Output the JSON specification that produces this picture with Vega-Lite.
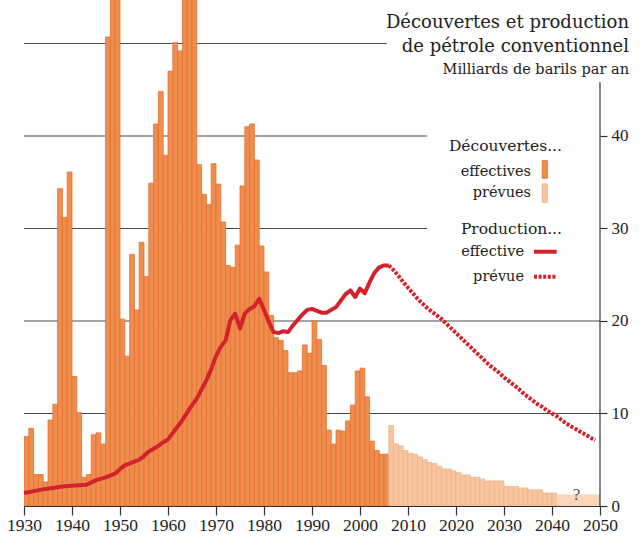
{
  "$schema": "https://vega.github.io/schema/vega-lite/v6.json",
  "width": 576,
  "height": 506,
  "autosize": {"type": "none"},
  "padding": {"left": 24, "right": 40, "top": 0, "bottom": 32},
  "background": "white",
  "config": {"view": {"stroke": null}, "font": "DejaVu Serif"},
  "datasets": {
    "grid": [
      {"start": 1930, "end": 2005.6, "level": 50},
      {"start": 1930, "end": 2014, "level": 40},
      {"start": 1930, "end": 2014, "level": 30},
      {"start": 1930, "end": 2050, "level": 20},
      {"start": 1930, "end": 2050, "level": 10}
    ],
    "disc": [
      {"year": 1930, "value": 7.5, "type": "effectives"},
      {"year": 1931, "value": 8.4, "type": "effectives"},
      {"year": 1932, "value": 3.4, "type": "effectives"},
      {"year": 1933, "value": 3.4, "type": "effectives"},
      {"year": 1934, "value": 2.6, "type": "effectives"},
      {"year": 1935, "value": 9.3, "type": "effectives"},
      {"year": 1936, "value": 11.0, "type": "effectives"},
      {"year": 1937, "value": 34.3, "type": "effectives"},
      {"year": 1938, "value": 31.2, "type": "effectives"},
      {"year": 1939, "value": 36.1, "type": "effectives"},
      {"year": 1940, "value": 14.0, "type": "effectives"},
      {"year": 1941, "value": 10.1, "type": "effectives"},
      {"year": 1942, "value": 3.1, "type": "effectives"},
      {"year": 1943, "value": 3.4, "type": "effectives"},
      {"year": 1944, "value": 7.7, "type": "effectives"},
      {"year": 1945, "value": 7.9, "type": "effectives"},
      {"year": 1946, "value": 6.7, "type": "effectives"},
      {"year": 1947, "value": 50.7, "type": "effectives"},
      {"year": 1948, "value": 62, "type": "effectives"},
      {"year": 1949, "value": 60, "type": "effectives"},
      {"year": 1950, "value": 20.2, "type": "effectives"},
      {"year": 1951, "value": 16.2, "type": "effectives"},
      {"year": 1952, "value": 27.2, "type": "effectives"},
      {"year": 1953, "value": 21.2, "type": "effectives"},
      {"year": 1954, "value": 28.5, "type": "effectives"},
      {"year": 1955, "value": 24.8, "type": "effectives"},
      {"year": 1956, "value": 34.9, "type": "effectives"},
      {"year": 1957, "value": 41.3, "type": "effectives"},
      {"year": 1958, "value": 44.8, "type": "effectives"},
      {"year": 1959, "value": 37.9, "type": "effectives"},
      {"year": 1960, "value": 47.0, "type": "effectives"},
      {"year": 1961, "value": 50.1, "type": "effectives"},
      {"year": 1962, "value": 49.2, "type": "effectives"},
      {"year": 1963, "value": 58, "type": "effectives"},
      {"year": 1964, "value": 62, "type": "effectives"},
      {"year": 1965, "value": 57, "type": "effectives"},
      {"year": 1966, "value": 36.9, "type": "effectives"},
      {"year": 1967, "value": 33.7, "type": "effectives"},
      {"year": 1968, "value": 32.6, "type": "effectives"},
      {"year": 1969, "value": 37.0, "type": "effectives"},
      {"year": 1970, "value": 34.8, "type": "effectives"},
      {"year": 1971, "value": 30.7, "type": "effectives"},
      {"year": 1972, "value": 26.0, "type": "effectives"},
      {"year": 1973, "value": 25.8, "type": "effectives"},
      {"year": 1974, "value": 28.2, "type": "effectives"},
      {"year": 1975, "value": 34.6, "type": "effectives"},
      {"year": 1976, "value": 41.0, "type": "effectives"},
      {"year": 1977, "value": 41.3, "type": "effectives"},
      {"year": 1978, "value": 37.4, "type": "effectives"},
      {"year": 1979, "value": 28.1, "type": "effectives"},
      {"year": 1980, "value": 25.3, "type": "effectives"},
      {"year": 1981, "value": 20.6, "type": "effectives"},
      {"year": 1982, "value": 18.2, "type": "effectives"},
      {"year": 1983, "value": 17.9, "type": "effectives"},
      {"year": 1984, "value": 16.8, "type": "effectives"},
      {"year": 1985, "value": 14.4, "type": "effectives"},
      {"year": 1986, "value": 14.4, "type": "effectives"},
      {"year": 1987, "value": 14.6, "type": "effectives"},
      {"year": 1988, "value": 17.4, "type": "effectives"},
      {"year": 1989, "value": 16.5, "type": "effectives"},
      {"year": 1990, "value": 20.0, "type": "effectives"},
      {"year": 1991, "value": 18.0, "type": "effectives"},
      {"year": 1992, "value": 15.2, "type": "effectives"},
      {"year": 1993, "value": 8.2, "type": "effectives"},
      {"year": 1994, "value": 6.7, "type": "effectives"},
      {"year": 1995, "value": 8.2, "type": "effectives"},
      {"year": 1996, "value": 8.1, "type": "effectives"},
      {"year": 1997, "value": 9.2, "type": "effectives"},
      {"year": 1998, "value": 10.9, "type": "effectives"},
      {"year": 1999, "value": 14.6, "type": "effectives"},
      {"year": 2000, "value": 14.9, "type": "effectives"},
      {"year": 2001, "value": 11.8, "type": "effectives"},
      {"year": 2002, "value": 7.0, "type": "effectives"},
      {"year": 2003, "value": 6.0, "type": "effectives"},
      {"year": 2004, "value": 5.6, "type": "effectives"},
      {"year": 2005, "value": 5.6, "type": "effectives"},
      {"year": 2006, "value": 8.7, "type": "prévues"},
      {"year": 2007, "value": 6.7, "type": "prévues"},
      {"year": 2008, "value": 6.5, "type": "prévues"},
      {"year": 2009, "value": 6.0, "type": "prévues"},
      {"year": 2010, "value": 5.7, "type": "prévues"},
      {"year": 2011, "value": 5.6, "type": "prévues"},
      {"year": 2012, "value": 5.3, "type": "prévues"},
      {"year": 2013, "value": 5.0, "type": "prévues"},
      {"year": 2014, "value": 4.7, "type": "prévues"},
      {"year": 2015, "value": 4.6, "type": "prévues"},
      {"year": 2016, "value": 4.3, "type": "prévues"},
      {"year": 2017, "value": 4.0, "type": "prévues"},
      {"year": 2018, "value": 4.0, "type": "prévues"},
      {"year": 2019, "value": 3.8, "type": "prévues"},
      {"year": 2020, "value": 3.6, "type": "prévues"},
      {"year": 2021, "value": 3.35, "type": "prévues"},
      {"year": 2022, "value": 3.35, "type": "prévues"},
      {"year": 2023, "value": 3.1, "type": "prévues"},
      {"year": 2024, "value": 3.1, "type": "prévues"},
      {"year": 2025, "value": 2.9, "type": "prévues"},
      {"year": 2026, "value": 2.7, "type": "prévues"},
      {"year": 2027, "value": 2.7, "type": "prévues"},
      {"year": 2028, "value": 2.7, "type": "prévues"},
      {"year": 2029, "value": 2.7, "type": "prévues"},
      {"year": 2030, "value": 2.1, "type": "prévues"},
      {"year": 2031, "value": 2.1, "type": "prévues"},
      {"year": 2032, "value": 2.1, "type": "prévues"},
      {"year": 2033, "value": 1.95, "type": "prévues"},
      {"year": 2034, "value": 1.95, "type": "prévues"},
      {"year": 2035, "value": 1.75, "type": "prévues"},
      {"year": 2036, "value": 1.75, "type": "prévues"},
      {"year": 2037, "value": 1.75, "type": "prévues"},
      {"year": 2038, "value": 1.4, "type": "prévues"},
      {"year": 2039, "value": 1.4, "type": "prévues"},
      {"year": 2040, "value": 1.4, "type": "prévues"}
    ],
    "uncertain": [{"start": 2041, "end": 2050, "value": 1.25}],
    "prod": [
      {"year": 1930, "value": 1.4, "type": "effective"},
      {"year": 1932, "value": 1.6, "type": "effective"},
      {"year": 1934, "value": 1.8, "type": "effective"},
      {"year": 1936, "value": 1.95, "type": "effective"},
      {"year": 1938, "value": 2.1, "type": "effective"},
      {"year": 1940, "value": 2.2, "type": "effective"},
      {"year": 1943, "value": 2.3, "type": "effective"},
      {"year": 1945, "value": 2.8, "type": "effective"},
      {"year": 1947, "value": 3.1, "type": "effective"},
      {"year": 1949, "value": 3.5, "type": "effective"},
      {"year": 1950, "value": 4.0, "type": "effective"},
      {"year": 1951, "value": 4.4, "type": "effective"},
      {"year": 1953, "value": 4.8, "type": "effective"},
      {"year": 1954, "value": 5.0, "type": "effective"},
      {"year": 1955, "value": 5.4, "type": "effective"},
      {"year": 1956, "value": 5.9, "type": "effective"},
      {"year": 1957, "value": 6.2, "type": "effective"},
      {"year": 1958, "value": 6.5, "type": "effective"},
      {"year": 1959, "value": 6.9, "type": "effective"},
      {"year": 1960, "value": 7.2, "type": "effective"},
      {"year": 1961, "value": 7.9, "type": "effective"},
      {"year": 1962, "value": 8.6, "type": "effective"},
      {"year": 1963, "value": 9.3, "type": "effective"},
      {"year": 1964, "value": 10.1, "type": "effective"},
      {"year": 1965, "value": 10.9, "type": "effective"},
      {"year": 1966, "value": 11.6, "type": "effective"},
      {"year": 1967, "value": 12.6, "type": "effective"},
      {"year": 1968, "value": 13.6, "type": "effective"},
      {"year": 1969, "value": 14.8, "type": "effective"},
      {"year": 1970, "value": 16.2, "type": "effective"},
      {"year": 1971, "value": 17.2, "type": "effective"},
      {"year": 1972, "value": 17.9, "type": "effective"},
      {"year": 1973, "value": 20.1, "type": "effective"},
      {"year": 1974, "value": 20.8, "type": "effective"},
      {"year": 1975, "value": 19.2, "type": "effective"},
      {"year": 1976, "value": 20.8, "type": "effective"},
      {"year": 1977, "value": 21.3, "type": "effective"},
      {"year": 1978, "value": 21.6, "type": "effective"},
      {"year": 1979, "value": 22.4, "type": "effective"},
      {"year": 1980, "value": 21.2, "type": "effective"},
      {"year": 1981, "value": 19.9, "type": "effective"},
      {"year": 1982, "value": 18.8, "type": "effective"},
      {"year": 1983, "value": 18.7, "type": "effective"},
      {"year": 1984, "value": 18.9, "type": "effective"},
      {"year": 1985, "value": 18.8, "type": "effective"},
      {"year": 1986, "value": 19.5, "type": "effective"},
      {"year": 1987, "value": 20.1, "type": "effective"},
      {"year": 1988, "value": 20.7, "type": "effective"},
      {"year": 1989, "value": 21.2, "type": "effective"},
      {"year": 1990, "value": 21.3, "type": "effective"},
      {"year": 1991, "value": 21.1, "type": "effective"},
      {"year": 1992, "value": 20.9, "type": "effective"},
      {"year": 1993, "value": 20.9, "type": "effective"},
      {"year": 1994, "value": 21.2, "type": "effective"},
      {"year": 1995, "value": 21.5, "type": "effective"},
      {"year": 1996, "value": 22.2, "type": "effective"},
      {"year": 1997, "value": 22.9, "type": "effective"},
      {"year": 1998, "value": 23.3, "type": "effective"},
      {"year": 1999, "value": 22.6, "type": "effective"},
      {"year": 2000, "value": 23.5, "type": "effective"},
      {"year": 2001, "value": 23.0, "type": "effective"},
      {"year": 2002, "value": 24.2, "type": "effective"},
      {"year": 2003, "value": 25.2, "type": "effective"},
      {"year": 2004, "value": 25.8, "type": "effective"},
      {"year": 2005, "value": 26.0, "type": "effective"},
      {"year": 2006, "value": 26.0, "type": "effective"},
      {"year": 2006, "value": 26.0, "type": "prévue"},
      {"year": 2007, "value": 25.5, "type": "prévue"},
      {"year": 2008, "value": 24.9, "type": "prévue"},
      {"year": 2009, "value": 24.2, "type": "prévue"},
      {"year": 2010, "value": 23.6, "type": "prévue"},
      {"year": 2011, "value": 23.0, "type": "prévue"},
      {"year": 2012, "value": 22.4, "type": "prévue"},
      {"year": 2013, "value": 21.9, "type": "prévue"},
      {"year": 2014, "value": 21.4, "type": "prévue"},
      {"year": 2015, "value": 21.0, "type": "prévue"},
      {"year": 2016, "value": 20.6, "type": "prévue"},
      {"year": 2017, "value": 20.2, "type": "prévue"},
      {"year": 2018, "value": 19.7, "type": "prévue"},
      {"year": 2019, "value": 19.2, "type": "prévue"},
      {"year": 2020, "value": 18.7, "type": "prévue"},
      {"year": 2021, "value": 18.2, "type": "prévue"},
      {"year": 2022, "value": 17.7, "type": "prévue"},
      {"year": 2023, "value": 17.2, "type": "prévue"},
      {"year": 2024, "value": 16.7, "type": "prévue"},
      {"year": 2025, "value": 16.2, "type": "prévue"},
      {"year": 2026, "value": 15.7, "type": "prévue"},
      {"year": 2027, "value": 15.2, "type": "prévue"},
      {"year": 2028, "value": 14.8, "type": "prévue"},
      {"year": 2029, "value": 14.4, "type": "prévue"},
      {"year": 2030, "value": 13.9, "type": "prévue"},
      {"year": 2031, "value": 13.5, "type": "prévue"},
      {"year": 2032, "value": 13.1, "type": "prévue"},
      {"year": 2033, "value": 12.7, "type": "prévue"},
      {"year": 2034, "value": 12.2, "type": "prévue"},
      {"year": 2035, "value": 11.8, "type": "prévue"},
      {"year": 2036, "value": 11.4, "type": "prévue"},
      {"year": 2037, "value": 11.0, "type": "prévue"},
      {"year": 2038, "value": 10.7, "type": "prévue"},
      {"year": 2039, "value": 10.3, "type": "prévue"},
      {"year": 2040, "value": 10.0, "type": "prévue"},
      {"year": 2041, "value": 9.7, "type": "prévue"},
      {"year": 2042, "value": 9.3, "type": "prévue"},
      {"year": 2043, "value": 8.9, "type": "prévue"},
      {"year": 2044, "value": 8.6, "type": "prévue"},
      {"year": 2045, "value": 8.3, "type": "prévue"},
      {"year": 2046, "value": 8.0, "type": "prévue"},
      {"year": 2047, "value": 7.7, "type": "prévue"},
      {"year": 2048, "value": 7.4, "type": "prévue"},
      {"year": 2049, "value": 7.1, "type": "prévue"}
    ],
    "titles": [
      {"x": 2056.04, "y": 51.64, "t": "Découvertes et production"},
      {"x": 2056.04, "y": 49.11, "t": "de pétrole conventionnel"}
    ],
    "subtitle": [{"x": 2056.04, "y": 46.7, "t": "Milliards de barils par an"}],
    "heads": [
      {"x": 2042.08, "y": 38.41, "t": "Découvertes..."},
      {"x": 2042.08, "y": 29.37, "t": "Production..."}
    ],
    "items": [
      {"x": 2035.63, "y": 35.71, "t": "effectives"},
      {"x": 2035.63, "y": 33.44, "t": "prévues"},
      {"x": 2034.17, "y": 27.03, "t": "effective"},
      {"x": 2034.17, "y": 24.32, "t": "prévue"}
    ],
    "swatches": [
      {"x": 2037.98, "x2": 2039.02, "y": 35.43, "y2": 37.33, "type": "effectives"},
      {"x": 2037.98, "x2": 2039.02, "y": 32.83, "y2": 34.81, "type": "prévues"}
    ],
    "legline": [{"x": 2036.25, "x2": 2040.98, "y": 27.49}],
    "legdots": [{"x": 2036.25, "x2": 2040.98, "y": 24.79}],
    "yaxisline": [{"x": 2050, "y": 0, "y2": 45.8}],
    "qmark": [{"x": 2045.1, "y": 0.6, "t": "?"}]
  },
  "layer": [
    {
      "data": {"name": "grid"},
      "mark": {"type": "rule", "color": "#4a4a4a", "strokeWidth": 1.2},
      "encoding": {
        "x": {
          "field": "start", "type": "quantitative", "title": null,
          "scale": {"domain": [1930, 2050], "nice": false, "zero": false},
          "axis": {
            "values": [1930, 1940, 1950, 1960, 1970, 1980, 1990, 2000, 2010, 2020, 2030, 2040, 2050],
            "format": "d", "title": null, "grid": false,
            "domainColor": "#333", "domainWidth": 1.2,
            "tickColor": "#333", "tickSize": 9, "tickWidth": 1.2,
            "labelFont": "Liberation Serif", "labelFontSize": 17.5, "labelColor": "#222",
            "labelPadding": 1, "labelFlush": false, "labelOverlap": false
          }
        },
        "x2": {"field": "end"},
        "y": {
          "field": "level", "type": "quantitative", "title": null,
          "scale": {"domain": [0, 54.7], "nice": false, "zero": true},
          "axis": {
            "orient": "right", "values": [0, 10, 20, 30, 40], "title": null, "grid": false,
            "domain": false, "tickColor": "#333", "tickSize": 7, "tickWidth": 1.2,
            "labelFont": "Liberation Serif", "labelFontSize": 17, "labelColor": "#222",
            "labelPadding": 4
          }
        }
      }
    },
    {
      "data": {"name": "disc"},
      "transform": [{"bin": {"step": 1, "extent": [1930, 2050]}, "field": "year", "as": "yr"}],
      "mark": {"type": "bar", "clip": true, "strokeWidth": 0.8},
      "encoding": {
        "x": {"field": "yr", "type": "quantitative", "title": null},
        "x2": {"field": "yr_end"},
        "y": {"field": "value", "type": "quantitative", "title": null},
        "y2": {"datum": 0},
        "fill": {"field": "type", "type": "nominal", "legend": null,
          "scale": {"domain": ["effectives", "prévues"], "range": ["#EE8D50", "#F7C6A0"]}},
        "stroke": {"field": "type", "type": "nominal", "legend": null,
          "scale": {"domain": ["effectives", "prévues"], "range": ["#E8702A", "#F3B184"]}}
      }
    },
    {
      "data": {"name": "uncertain"},
      "mark": {"type": "rect", "fill": "#F9D6BA"},
      "encoding": {
        "x": {"field": "start", "type": "quantitative", "title": null},
        "x2": {"field": "end"},
        "y": {"field": "value", "type": "quantitative", "title": null},
        "y2": {"datum": 0}
      }
    },
    {
      "data": {"name": "prod"},
      "transform": [{"filter": "datum.type === 'effective'"}],
      "mark": {"type": "line", "color": "#D3222B", "strokeWidth": 4, "strokeJoin": "round", "strokeCap": "butt"},
      "encoding": {
        "x": {"field": "year", "type": "quantitative", "title": null},
        "y": {"field": "value", "type": "quantitative", "title": null}
      }
    },
    {
      "data": {"name": "prod"},
      "transform": [{"filter": "datum.type === 'prévue'"}],
      "mark": {"type": "line", "color": "#D3222B", "strokeWidth": 4, "strokeDash": [3, 1.6], "strokeCap": "butt"},
      "encoding": {
        "x": {"field": "year", "type": "quantitative", "title": null},
        "y": {"field": "value", "type": "quantitative", "title": null}
      }
    },
    {
      "data": {"name": "yaxisline"},
      "mark": {"type": "rule", "color": "#333", "strokeWidth": 1.2},
      "encoding": {
        "x": {"field": "x", "type": "quantitative", "title": null},
        "y": {"field": "y", "type": "quantitative", "title": null},
        "y2": {"field": "y2"}
      }
    },
    {
      "data": {"name": "titles"},
      "mark": {"type": "text", "align": "right", "baseline": "alphabetic", "font": "DejaVu Serif", "fontSize": 18, "color": "#222"},
      "encoding": {
        "x": {"field": "x", "type": "quantitative", "title": null},
        "y": {"field": "y", "type": "quantitative", "title": null},
        "text": {"field": "t", "type": "nominal"}
      }
    },
    {
      "data": {"name": "subtitle"},
      "mark": {"type": "text", "align": "right", "baseline": "alphabetic", "font": "DejaVu Serif", "fontSize": 14.5, "color": "#222"},
      "encoding": {
        "x": {"field": "x", "type": "quantitative", "title": null},
        "y": {"field": "y", "type": "quantitative", "title": null},
        "text": {"field": "t", "type": "nominal"}
      }
    },
    {
      "data": {"name": "heads"},
      "mark": {"type": "text", "align": "right", "baseline": "alphabetic", "font": "DejaVu Serif", "fontSize": 15.5, "color": "#222"},
      "encoding": {
        "x": {"field": "x", "type": "quantitative", "title": null},
        "y": {"field": "y", "type": "quantitative", "title": null},
        "text": {"field": "t", "type": "nominal"}
      }
    },
    {
      "data": {"name": "items"},
      "mark": {"type": "text", "align": "right", "baseline": "alphabetic", "font": "DejaVu Serif", "fontSize": 14.5, "color": "#222"},
      "encoding": {
        "x": {"field": "x", "type": "quantitative", "title": null},
        "y": {"field": "y", "type": "quantitative", "title": null},
        "text": {"field": "t", "type": "nominal"}
      }
    },
    {
      "data": {"name": "swatches"},
      "mark": {"type": "rect", "strokeWidth": 1},
      "encoding": {
        "x": {"field": "x", "type": "quantitative", "title": null},
        "x2": {"field": "x2"},
        "y": {"field": "y", "type": "quantitative", "title": null},
        "y2": {"field": "y2"},
        "fill": {"field": "type", "type": "nominal", "legend": null},
        "stroke": {"field": "type", "type": "nominal", "legend": null}
      }
    },
    {
      "data": {"name": "legline"},
      "mark": {"type": "rule", "color": "#D3222B", "strokeWidth": 4, "strokeCap": "butt"},
      "encoding": {
        "x": {"field": "x", "type": "quantitative", "title": null},
        "x2": {"field": "x2"},
        "y": {"field": "y", "type": "quantitative", "title": null}
      }
    },
    {
      "data": {"name": "legdots"},
      "mark": {"type": "rule", "color": "#D3222B", "strokeWidth": 4, "strokeDash": [3, 1.6], "strokeCap": "butt"},
      "encoding": {
        "x": {"field": "x", "type": "quantitative", "title": null},
        "x2": {"field": "x2"},
        "y": {"field": "y", "type": "quantitative", "title": null}
      }
    },
    {
      "data": {"name": "qmark"},
      "mark": {"type": "text", "align": "center", "baseline": "alphabetic", "font": "Liberation Serif", "fontSize": 17, "color": "#555"},
      "encoding": {
        "x": {"field": "x", "type": "quantitative", "title": null},
        "y": {"field": "y", "type": "quantitative", "title": null},
        "text": {"field": "t", "type": "nominal"}
      }
    }
  ]
}
